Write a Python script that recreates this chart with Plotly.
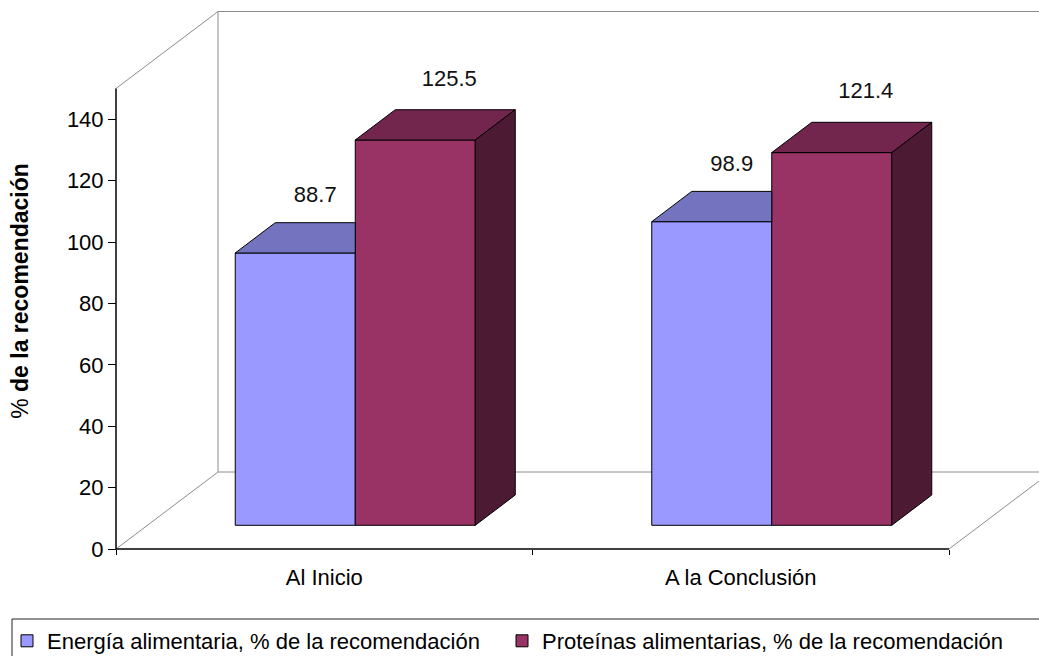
import plotly.graph_objects as go

# ---------------- data ----------------
categories = ["Al Inicio", "A la Conclusión"]
energia = [88.7, 98.9]
proteinas = [125.5, 121.4]
series_names = ["Energía alimentaria, % de la recomendación",
                "Proteínas alimentarias, % de la recomendación"]
y_tick_values = [0, 20, 40, 60, 80, 100, 120, 140]
y_title = "% <b>de la recomendación</b>"

# ---------------- geometry / style ----------------
W, H = 1039, 656
PX_X = 416.5          # pixels per category
PX_Y = 3.07           # pixels per value unit
X0_PX, Y0_PX = 116, 549
DOM_TOP_PX, DOM_BOT_PX = 8, 574

x_range = [-0.5 - X0_PX / PX_X, -0.5 + (W - X0_PX) / PX_X]
y_range = [-(DOM_BOT_PX - Y0_PX) / PX_Y, (Y0_PX - DOM_TOP_PX) / PX_Y]
y_domain = [(H - DOM_BOT_PX) / H, (H - DOM_TOP_PX) / H]

WALL_TOP = 150
DEPTH_DX = 102 / PX_X
DEPTH_DY = 77 / PX_Y
BAR_SHIFT_DX = 31 / PX_X
BAR_SHIFT_DY = 23.7 / PX_Y
BAR_W = 120 / PX_X
BAR_DDX = 40 / PX_X
BAR_DDY = 30.3 / PX_Y

FONT = "Liberation Sans, Arial, sans-serif"
GRAY = "#8c8c8c"

colors_front = ["#9999FF", "#993366"]
colors_top = ["#7373BF", "#73264D"]
colors_side = ["#4D4D80", "#4D1A33"]
label_dx = [20 / PX_X, 34 / PX_X]
label_dy = [56 / PX_Y, 60 / PX_Y]

series = [energia, proteinas]
n = len(categories)
xs = list(range(n))

fig = go.Figure()

# front faces (real bars)
for k, vals in enumerate(series):
    centers = [i + BAR_SHIFT_DX + (k - 0.5) * BAR_W for i in xs]
    fig.add_trace(go.Bar(
        x=centers, y=vals, base=BAR_SHIFT_DY, width=BAR_W,
        marker=dict(color=colors_front[k], line=dict(color="black", width=1)),
        name=series_names[k], legend="legend" if k == 0 else "legend2",
        hoverinfo="skip"))

# top and side faces
for i in xs:
    for k, vals in enumerate(series):
        c = i + BAR_SHIFT_DX + (k - 0.5) * BAR_W
        xl, xr = c - BAR_W / 2, c + BAR_W / 2
        B = BAR_SHIFT_DY
        T = B + vals[i]
        hidden = (k == 0 and series[1][i] + B >= T + BAR_DDY)
        if hidden:
            tx = [xl, xr, xr, xl + BAR_DDX, xl]
            ty = [T, T, T + BAR_DDY, T + BAR_DDY, T]
        else:
            tx = [xl, xr, xr + BAR_DDX, xl + BAR_DDX, xl]
            ty = [T, T, T + BAR_DDY, T + BAR_DDY, T]
        fig.add_trace(go.Scatter(x=tx, y=ty, mode="lines", fill="toself",
                                 fillcolor=colors_top[k],
                                 line=dict(color="black", width=1),
                                 showlegend=False, hoverinfo="skip"))
        if not hidden:
            sx = [xr, xr + BAR_DDX, xr + BAR_DDX, xr, xr]
            sy = [B, B + BAR_DDY, T + BAR_DDY, T, B]
            fig.add_trace(go.Scatter(x=sx, y=sy, mode="lines", fill="toself",
                                     fillcolor=colors_side[k],
                                     line=dict(color="black", width=1),
                                     showlegend=False, hoverinfo="skip"))

# value labels
for k, vals in enumerate(series):
    lx = [i + BAR_SHIFT_DX + (k - 0.5) * BAR_W + label_dx[k] for i in xs]
    ly = [BAR_SHIFT_DY + v + label_dy[k] for v in vals]
    fig.add_trace(go.Scatter(x=lx, y=ly, mode="text",
                             text=[f"{v:.1f}" for v in vals],
                             textposition="middle center",
                             textfont=dict(family=FONT, size=22, color="#111111"),
                             showlegend=False, hoverinfo="skip",
                             cliponaxis=False))

# 3D frame (walls / floor) as shapes below the traces
xl_axis, xr_axis = -0.5, n - 0.5
frame_gray = [
    ((xl_axis, WALL_TOP), (xl_axis + DEPTH_DX, WALL_TOP + DEPTH_DY)),
    ((xl_axis + DEPTH_DX, DEPTH_DY), (xl_axis + DEPTH_DX, WALL_TOP + DEPTH_DY)),
    ((xl_axis, 0), (xl_axis + DEPTH_DX, DEPTH_DY)),
    ((xl_axis + DEPTH_DX, WALL_TOP + DEPTH_DY), (xr_axis + DEPTH_DX, WALL_TOP + DEPTH_DY)),
    ((xl_axis + DEPTH_DX, DEPTH_DY), (xr_axis + DEPTH_DX, DEPTH_DY)),
    ((xr_axis, 0), (xr_axis + DEPTH_DX, DEPTH_DY)),
]
shapes = []
for (a, b) in frame_gray:
    shapes.append(dict(type="line", xref="x", yref="y", x0=a[0], y0=a[1],
                       x1=b[0], y1=b[1], line=dict(color=GRAY, width=1),
                       layer="below"))
shapes.append(dict(type="line", xref="x", yref="y", x0=xl_axis, y0=0,
                   x1=xl_axis, y1=WALL_TOP, line=dict(color="black", width=1.5),
                   layer="below"))
shapes.append(dict(type="line", xref="x", yref="y", x0=xl_axis, y0=0,
                   x1=xr_axis, y1=0, line=dict(color="black", width=1.5),
                   layer="below"))
# legend frame
shapes.append(dict(type="rect", xref="paper", yref="paper",
                   x0=12 / W, x1=1.05, y0=-0.2, y1=(H - 619) / H,
                   line=dict(color="#222222", width=1), fillcolor="rgba(0,0,0,0)"))

legend_y = (H - 641) / H
fig.update_layout(
    width=W, height=H,
    margin=dict(l=0, r=0, t=0, b=0, autoexpand=False),
    paper_bgcolor="white", plot_bgcolor="white",
    barmode="overlay",
    showlegend=True,
    shapes=shapes,
    font=dict(family=FONT, size=22, color="black"),
    xaxis=dict(
        range=x_range, domain=[0, 1], anchor="free", position=(H - Y0_PX) / H,
        tickmode="array", tickvals=xs, ticktext=categories,
        ticks="outside", ticklen=9, tickcolor="rgba(0,0,0,0)",
        tickfont=dict(family=FONT, size=22, color="black"),
        minor=dict(tickmode="array", tickvals=[xl_axis + j for j in range(n + 1)],
                   ticks="outside", ticklen=5, tickcolor="black", tickwidth=1),
        showline=False, showgrid=False, zeroline=False, fixedrange=True),
    yaxis=dict(
        range=y_range, domain=y_domain, anchor="free", position=X0_PX / W,
        side="left", tickmode="array", tickvals=y_tick_values,
        ticks="outside", ticklen=8, tickcolor="black", tickwidth=1,
        tickfont=dict(family=FONT, size=22, color="black"),
        showline=False, showgrid=False, zeroline=False, fixedrange=True,
        title=dict(text=y_title,
                   font=dict(family=FONT, size=23, color="black"),
                   standoff=30)),
    legend=dict(x=7 / W, y=legend_y, xanchor="left", yanchor="middle",
                orientation="h", font=dict(family=FONT, size=22, color="black"),
                bgcolor="rgba(0,0,0,0)", borderwidth=0),
    legend2=dict(x=502 / W, y=legend_y, xanchor="left", yanchor="middle",
                 orientation="h", font=dict(family=FONT, size=22, color="black"),
                 bgcolor="rgba(0,0,0,0)", borderwidth=0),
)

fig.write_html("out.html")
